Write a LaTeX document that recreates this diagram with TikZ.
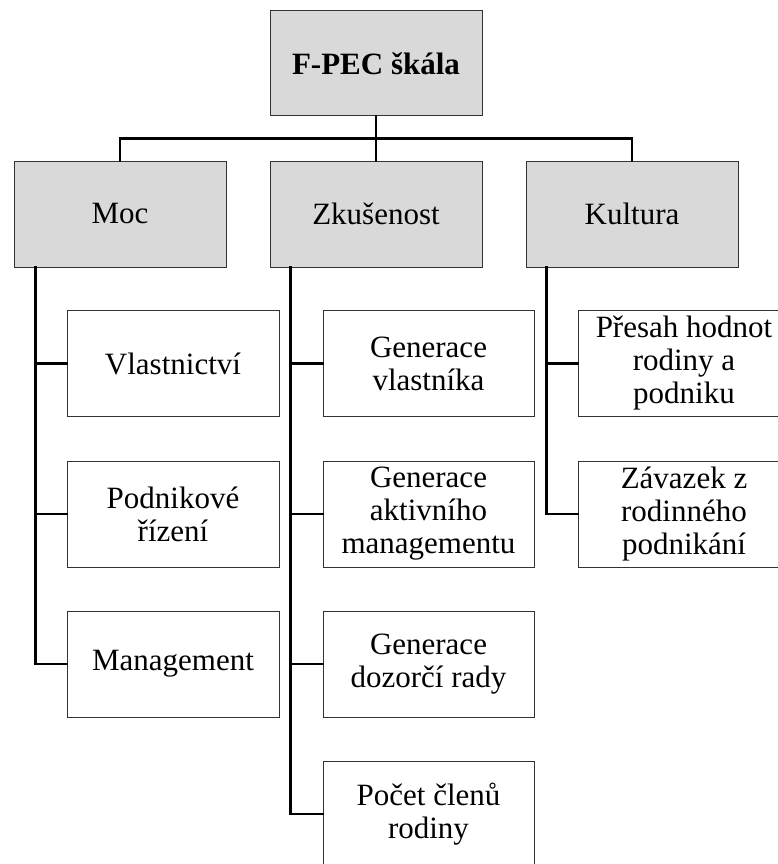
\documentclass[tikz,border=0pt]{standalone}
\usepackage{fontspec}
\setmainfont{Liberation Serif}
\usepackage{tikz}
\usetikzlibrary{positioning}

\begin{document}
\begin{tikzpicture}[x=1pt, y=-1pt,
  every node/.style={font=\fontsize{31}{33}\selectfont, align=center, inner sep=0pt},
  rootbox/.style={draw=black!80, fill=black!15, line width=1pt, minimum width=212pt, minimum height=105pt},
  catbox/.style={draw=black!80, fill=black!15, line width=1pt, minimum width=212pt, minimum height=106pt},
  itembox/.style={draw=black!80, fill=white, line width=1pt, minimum width=212pt, minimum height=106pt},
  link/.style={line width=2.6pt, line cap=rect}]
  \useasboundingbox (0,0) rectangle (778,864);

  \node[rootbox] (fpec) at (376,63.5) {\textbf{F-PEC škála}};

  \node[catbox] (moc) at (120,214) {Moc};
  \node[catbox] (zkus) at (376,214) {Zkušenost};
  \node[catbox] (kult) at (632,214) {Kultura};

  \node[itembox] (vlast) at (173,363.5) {Vlastnictví};
  \node[itembox] (rizeni) at (173,514) {Podnikové\\řízení};
  \node[itembox] (mgmt) at (173,664) {Management};

  \node[itembox, minimum width=211pt] (genvl) at (428.5,363.5) {Generace\\vlastníka};
  \node[itembox, minimum width=211pt] (genak) at (428.5,514) {Generace\\aktivního\\managementu};
  \node[itembox, minimum width=211pt] (gendoz) at (428.5,664) {Generace\\dozorčí rady};
  \node[itembox, minimum width=211pt] (pocet) at (428.5,814) {Počet členů\\rodiny};

  \node[itembox] (presah) at (684,363.5) {Přesah hodnot\\rodiny a\\podniku};
  \node[itembox] (zavaz) at (684,514) {Závazek z\\rodinného\\podnikání};

  % top level
  \draw[link] (fpec.south) -- (zkus.north);
  \draw[link] (moc.north) |- ([yshift=-22pt]fpec.south) -| (kult.north);

  % branches
  \draw[link] ([xshift=22pt]moc.south west) |- (vlast.west);
  \draw[link] ([xshift=22pt]moc.south west) |- (rizeni.west);
  \draw[link] ([xshift=22pt]moc.south west) |- (mgmt.west);

  \draw[link] ([xshift=21pt]zkus.south west) |- (genvl.west);
  \draw[link] ([xshift=21pt]zkus.south west) |- (genak.west);
  \draw[link] ([xshift=21pt]zkus.south west) |- (gendoz.west);
  \draw[link] ([xshift=21pt]zkus.south west) |- (pocet.west);

  \draw[link] ([xshift=21pt]kult.south west) |- (presah.west);
  \draw[link] ([xshift=21pt]kult.south west) |- (zavaz.west);
\end{tikzpicture}
\end{document}
